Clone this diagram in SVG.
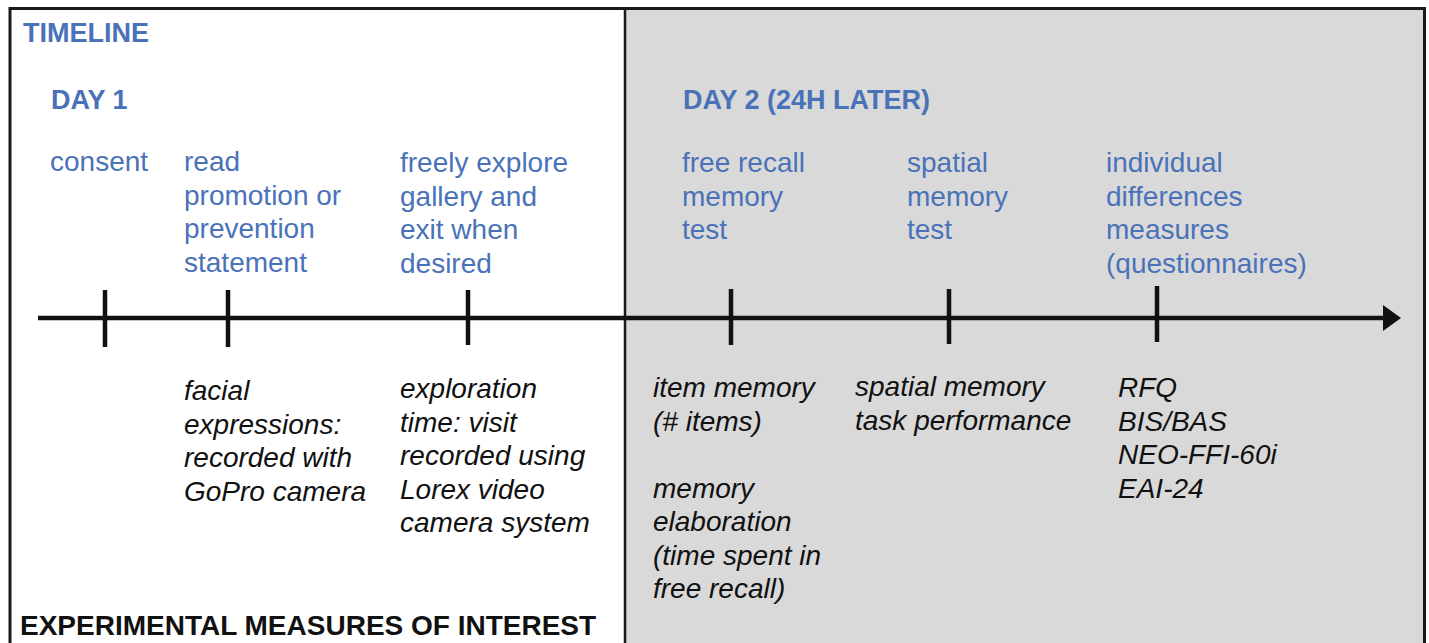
<svg xmlns="http://www.w3.org/2000/svg" width="1429" height="643" viewBox="0 0 1429 643">
<style>
.h{font-family:"Liberation Sans",Arial,sans-serif;font-weight:bold;font-size:27px;fill:#4a72b8}
.b{font-family:"Liberation Sans",Arial,sans-serif;font-size:28px;fill:#4a72b8}
.m{font-family:"Liberation Sans",Arial,sans-serif;font-size:28px;font-style:italic;fill:#111}
.t{font-family:"Liberation Sans",Arial,sans-serif;font-size:28px;font-weight:bold;fill:#111}
.tick{stroke:#111;stroke-width:4.5}
</style>
<rect x="0" y="0" width="1429" height="643" fill="#fff"/>
<g id="day2-panel"><rect x="625" y="8.5" width="800" height="640" fill="#d9d9d9"/></g>
<g id="frame" fill="none" stroke="#1a1a1a">
<path d="M10,650 V8.5 H1424.5 V650" stroke-width="3"/>
<line x1="625" y1="8.5" x2="625" y2="650" stroke-width="2.5"/>
</g>
<text class="h" x="23" y="42">TIMELINE</text>
<text class="h" x="51" y="109">DAY 1</text>
<text class="h" x="683" y="109">DAY 2 (24H LATER)</text>
<g id="connectors">
<line x1="38" y1="318" x2="1386" y2="318" stroke="#111" stroke-width="4.5"/>
<polygon points="1383,305 1401,318 1383,331" fill="#111"/>
<line class="tick" x1="105" y1="290" x2="105" y2="347"/>
<line class="tick" x1="228" y1="290" x2="228" y2="347"/>
<line class="tick" x1="468" y1="290" x2="468" y2="345"/>
<line class="tick" x1="731" y1="289" x2="731" y2="345"/>
<line class="tick" x1="949" y1="289" x2="949" y2="344"/>
<line class="tick" x1="1157" y1="286" x2="1157" y2="342"/>
</g>
<g id="consent"><text class="b" x="50" y="171">consent</text></g>
<g id="read"><text class="b" x="184" y="171">read<tspan x="184" dy="33.5">promotion or</tspan><tspan x="184" dy="33.5">prevention</tspan><tspan x="184" dy="33.5">statement</tspan></text></g>
<g id="explore"><text class="b" x="400" y="172">freely explore<tspan x="400" dy="33.5">gallery and</tspan><tspan x="400" dy="33.5">exit when</tspan><tspan x="400" dy="33.5">desired</tspan></text></g>
<g id="freerecall"><text class="b" x="682" y="172">free recall<tspan x="682" dy="33.5">memory</tspan><tspan x="682" dy="33.5">test</tspan></text></g>
<g id="spatial"><text class="b" x="907" y="172">spatial<tspan x="907" dy="33.5">memory</tspan><tspan x="907" dy="33.5">test</tspan></text></g>
<g id="individual"><text class="b" x="1106" y="172">individual<tspan x="1106" dy="33.5">differences</tspan><tspan x="1106" dy="33.5">measures</tspan><tspan x="1106" dy="33.5">(questionnaires)</tspan></text></g>
<g id="facial"><text class="m" x="184" y="400">facial<tspan x="184" dy="33.5">expressions:</tspan><tspan x="184" dy="33.5">recorded with</tspan><tspan x="184" dy="33.5">GoPro camera</tspan></text></g>
<g id="exploration"><text class="m" x="400" y="398">exploration<tspan x="400" dy="33.5">time: visit</tspan><tspan x="400" dy="33.5">recorded using</tspan><tspan x="400" dy="33.5">Lorex video</tspan><tspan x="400" dy="33.5">camera system</tspan></text></g>
<g id="itemmemory"><text class="m" x="653" y="397">item memory<tspan x="653" dy="33.5">(# items)</tspan><tspan x="653" dy="67">memory</tspan><tspan x="653" dy="33.5">elaboration</tspan><tspan x="653" dy="33.5">(time spent in</tspan><tspan x="653" dy="33.5">free recall)</tspan></text></g>
<g id="spatialperf"><text class="m" x="855" y="396">spatial memory<tspan x="855" dy="33.5">task performance</tspan></text></g>
<g id="questionnaires"><text class="m" x="1118" y="397">RFQ<tspan x="1118" dy="33.5">BIS/BAS</tspan><tspan x="1118" dy="33.5">NEO-FFI-60i</tspan><tspan x="1118" dy="33.5">EAI-24</tspan></text></g>
<text class="t" x="20" y="635">EXPERIMENTAL MEASURES OF INTEREST</text>
</svg>
